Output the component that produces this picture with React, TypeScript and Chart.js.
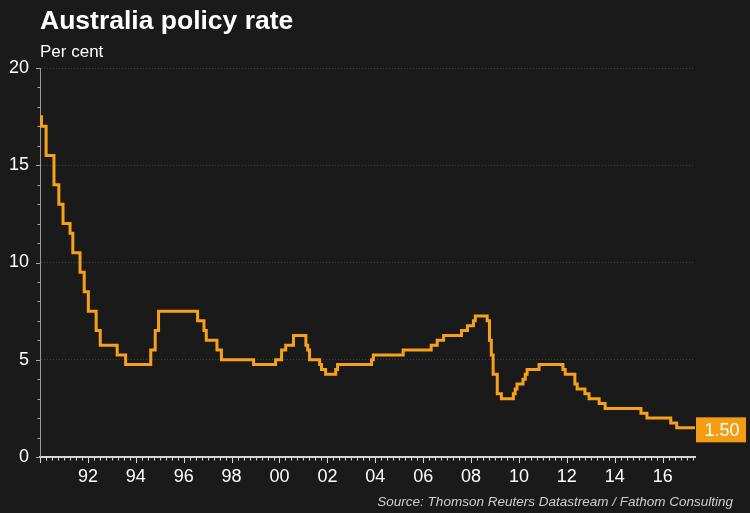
import React, { useEffect, useRef } from "react";
import { Chart, registerables } from "chart.js";

Chart.register(...registerables);

// ---- Data (RBA cash rate target, per cent) ----
const changeDates = [
  "1990-01-01", "1990-01-23", "1990-04-04", "1990-08-02", "1990-10-15", "1990-12-18",
  "1991-04-04", "1991-05-16", "1991-09-03", "1991-11-06",
  "1992-01-08", "1992-05-06", "1992-07-08",
  "1993-03-23", "1993-07-30",
  "1994-08-17", "1994-10-24", "1994-12-14",
  "1996-07-31", "1996-11-06", "1996-12-11",
  "1997-05-23", "1997-07-30",
  "1998-12-02",
  "1999-11-03",
  "2000-02-02", "2000-04-05", "2000-08-02",
  "2001-02-07", "2001-03-07", "2001-04-04", "2001-09-05", "2001-10-03", "2001-12-05",
  "2002-05-08", "2002-06-05",
  "2003-11-05", "2003-12-03",
  "2005-03-02",
  "2006-05-03", "2006-08-02", "2006-11-08",
  "2007-08-08", "2007-11-07",
  "2008-02-06", "2008-03-05", "2008-09-03", "2008-10-08", "2008-11-05", "2008-12-03",
  "2009-02-04", "2009-04-08", "2009-10-07", "2009-11-04", "2009-12-02",
  "2010-03-03", "2010-04-07", "2010-05-05", "2010-11-03",
  "2011-11-02", "2011-12-07",
  "2012-05-02", "2012-06-06", "2012-10-03", "2012-12-05",
  "2013-05-08", "2013-08-07",
  "2015-02-04", "2015-05-06",
  "2016-05-04", "2016-08-03",
  "2017-05-08",
];
const rates = [
  17.5, 17.0, 15.5, 14.0, 13.0, 12.0,
  11.5, 10.5, 9.5, 8.5,
  7.5, 6.5, 5.75,
  5.25, 4.75,
  5.5, 6.5, 7.5,
  7.0, 6.5, 6.0,
  5.5, 5.0,
  4.75,
  5.0,
  5.5, 5.75, 6.25,
  5.75, 5.5, 5.0, 4.75, 4.5, 4.25,
  4.5, 4.75,
  5.0, 5.25,
  5.5,
  5.75, 6.0, 6.25,
  6.5, 6.75,
  7.0, 7.25, 7.0, 6.0, 5.25, 4.25,
  3.25, 3.0, 3.25, 3.5, 3.75,
  4.0, 4.25, 4.5, 4.75,
  4.5, 4.25,
  3.75, 3.5, 3.25, 3.0,
  2.75, 2.5,
  2.25, 2.0,
  1.75, 1.5,
  1.5,
];
const yTickValues = [0, 5, 10, 15, 20];
const xTickYears = [1992, 1994, 1996, 1998, 2000, 2002, 2004, 2006, 2008, 2010, 2012, 2014, 2016];
const xMin = 1990.0;
const xMax = 2017.35;
const titleText = "Australia policy rate";
const subtitleText = "Per cent";
const sourceText = "Source: Thomson Reuters Datastream / Fathom Consulting";

const ORANGE = "#f7a11a";
const BOX = "#f59d12";
const BG = "#1a1a1a";
const FONT = "'Liberation Sans', Arial, Helvetica, sans-serif";

function toDecimalYear(s: string): number {
  const [y, m, d] = s.split("-").map(Number);
  const start = Date.UTC(y, 0, 1);
  const t = Date.UTC(y, m - 1, d);
  const end = Date.UTC(y + 1, 0, 1);
  return y + (t - start) / (end - start);
}

const decorPlugin = {
  id: "decor",
  afterDraw(chart: any) {
    const { ctx, chartArea, scales } = chart;
    const xs = scales.x;
    const ys = scales.y;
    ctx.save();
    // y-axis tick marks (every 1, longer on labelled values)
    ctx.strokeStyle = "#a8a8a8";
    ctx.lineWidth = 1;
    for (let v = 0; v <= 20; v++) {
      const py = Math.round(ys.getPixelForValue(v)) + 0.5;
      const len = v % 5 === 0 ? 4 : 2.5;
      ctx.beginPath();
      ctx.moveTo(chartArea.left - len, py);
      ctx.lineTo(chartArea.left, py);
      ctx.stroke();
    }
    // x-axis tick marks (quarterly, longer on labelled years)
    ctx.strokeStyle = "#d8d8d8";
    for (let q = Math.ceil(xMin * 4); q / 4 <= xMax; q++) {
      const v = q / 4;
      const px = Math.round(xs.getPixelForValue(v)) + 0.5;
      const major = q % 8 === 0;
      ctx.beginPath();
      ctx.moveTo(px, chartArea.bottom);
      ctx.lineTo(px, chartArea.bottom + (major ? 6 : 3.5));
      ctx.stroke();
    }
    // Titles
    ctx.fillStyle = "#ffffff";
    ctx.textAlign = "left";
    ctx.textBaseline = "alphabetic";
    ctx.font = `bold 26.5px ${FONT}`;
    ctx.fillText(titleText, chartArea.left, 29);
    ctx.font = `17px ${FONT}`;
    ctx.fillText(subtitleText, chartArea.left, 56.5);
    // Source
    ctx.fillStyle = "#cfcfcf";
    ctx.textAlign = "right";
    ctx.font = `italic 13.5px ${FONT}`;
    ctx.fillText(sourceText, 733, 506);
    // Last-value box
    const last = rates[rates.length - 1];
    const cy = ys.getPixelForValue(last) + 2;
    const bx = chartArea.right + 1;
    const bw = 746 - bx;
    const bh = 25;
    ctx.fillStyle = BOX;
    ctx.fillRect(bx, cy - bh / 2, bw, bh);
    ctx.fillStyle = "#ffffff";
    ctx.textAlign = "center";
    ctx.textBaseline = "middle";
    ctx.font = `18px ${FONT}`;
    ctx.fillText(last.toFixed(2), bx + bw / 2 + 1, cy + 1);
    ctx.restore();
  },
};

export default function App() {
  const canvasRef = useRef<HTMLCanvasElement | null>(null);

  useEffect(() => {
    if (!canvasRef.current) return;
    const points = changeDates.map((d, i) => ({ x: toDecimalYear(d), y: rates[i] }));
    const chart = new Chart(canvasRef.current, {
      type: "line",
      data: {
        datasets: [
          {
            data: points,
            borderColor: ORANGE,
            borderWidth: 3,
            pointRadius: 0,
            fill: false,
            stepped: "before",
            tension: 0,
          },
        ],
      },
      options: {
        animation: false,
        responsive: false,
        maintainAspectRatio: false,
        events: [],
        layout: { padding: { left: 0, top: 68, right: 55, bottom: 0 } },
        plugins: {
          legend: { display: false },
          title: { display: false },
          tooltip: { enabled: false },
        },
        scales: {
          x: {
            type: "linear",
            min: xMin,
            max: xMax,
            afterBuildTicks: (scale: any) => {
              scale.ticks = xTickYears.map((v) => ({ value: v }));
            },
            afterFit: (scale: any) => {
              scale.height = 56;
            },
            grid: { display: false },
            border: { display: true, color: "#d6d6d6", width: 2 },
            ticks: {
              autoSkip: false,
              maxRotation: 0,
              padding: 1,
              color: "#ffffff",
              font: { family: FONT, size: 18 },
              callback: (v: any) => String(Number(v) % 100).padStart(2, "0"),
            },
          },
          y: {
            type: "linear",
            min: 0,
            max: 20,
            afterBuildTicks: (scale: any) => {
              scale.ticks = yTickValues.map((v) => ({ value: v }));
            },
            afterFit: (scale: any) => {
              scale.width = 40;
            },
            grid: {
              display: true,
              drawTicks: false,
              color: (c: any) => (c.tick && c.tick.value === 0 ? "rgba(0,0,0,0)" : "#3e3e3e"),
              lineWidth: 1,
            },
            border: { display: true, color: "#9a9a9a", width: 1, dash: [1, 2] },
            ticks: {
              padding: 11,
              color: "#ffffff",
              font: { family: FONT, size: 18 },
              callback: (v: any) => String(v),
            },
          },
        },
      },
      plugins: [decorPlugin],
    });
    return () => chart.destroy();
  }, []);

  return (
    <div
      style={{
        position: "absolute",
        left: 0,
        top: 0,
        width: 750,
        height: 513,
        background: BG,
      }}
    >
      <canvas ref={canvasRef} width={750} height={513} style={{ display: "block" }} />
    </div>
  );
}
